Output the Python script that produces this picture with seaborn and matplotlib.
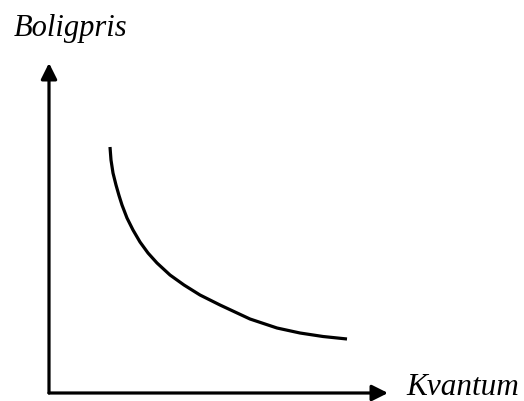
import numpy as np
import pandas as pd
import matplotlib
matplotlib.use("Agg")
import matplotlib.pyplot as plt
import seaborn as sns

# curve (origin at the corner of the axes)
kvantum = [61, 62, 64, 67, 70, 73, 78, 84, 91, 99, 108, 121, 135, 151, 171,
           201, 228, 251, 274, 298]
boligpris = [246, 233, 220, 208, 197.5, 188, 175, 163, 151, 140, 130, 118,
             108, 98, 88, 74, 65, 60, 56.5, 54]
x_label = "Kvantum"
y_label = "Boligpris"
x_max = 339
y_max = 330

sns.set_style("white")
plt.rcParams["font.family"] = ["Liberation Serif", "DejaVu Serif"]

fig = plt.figure(figsize=(5.24, 4.01), dpi=100)
W, H = 524, 401
ax = fig.add_axes([49 / W, (H - 393) / H, (388 - 49) / W, (393 - 63) / H])

df = pd.DataFrame({"kvantum": kvantum, "boligpris": boligpris})
sns.lineplot(data=df, x="kvantum", y="boligpris", sort=False, color="black",
             lw=2.3, ax=ax, solid_capstyle="butt", solid_joinstyle="round")

ax.set_xlim(0, x_max)
ax.set_ylim(0, y_max)
for s in ax.spines.values():
    s.set_visible(False)
ax.set_xticks([])
ax.set_yticks([])
ax.set_xlabel("")
ax.set_ylabel("")

arrow = dict(arrowstyle="-|>", lw=2.3, color="black", mutation_scale=24,
             shrinkA=0, shrinkB=0)
ax.annotate("", xy=(x_max, 0), xytext=(0, 0), arrowprops=arrow, annotation_clip=False)
ax.annotate("", xy=(0, y_max), xytext=(0, 0), arrowprops=arrow, annotation_clip=False)

fig.text(14 / W, 1 - 36 / H, y_label, fontsize=22, style="italic",
         va="baseline", color="black")
fig.text(406 / W, 1 - 395 / H, x_label, fontsize=22.5, style="italic",
         va="baseline", color="black")

fig.savefig("out.png", dpi=100, facecolor="white")
